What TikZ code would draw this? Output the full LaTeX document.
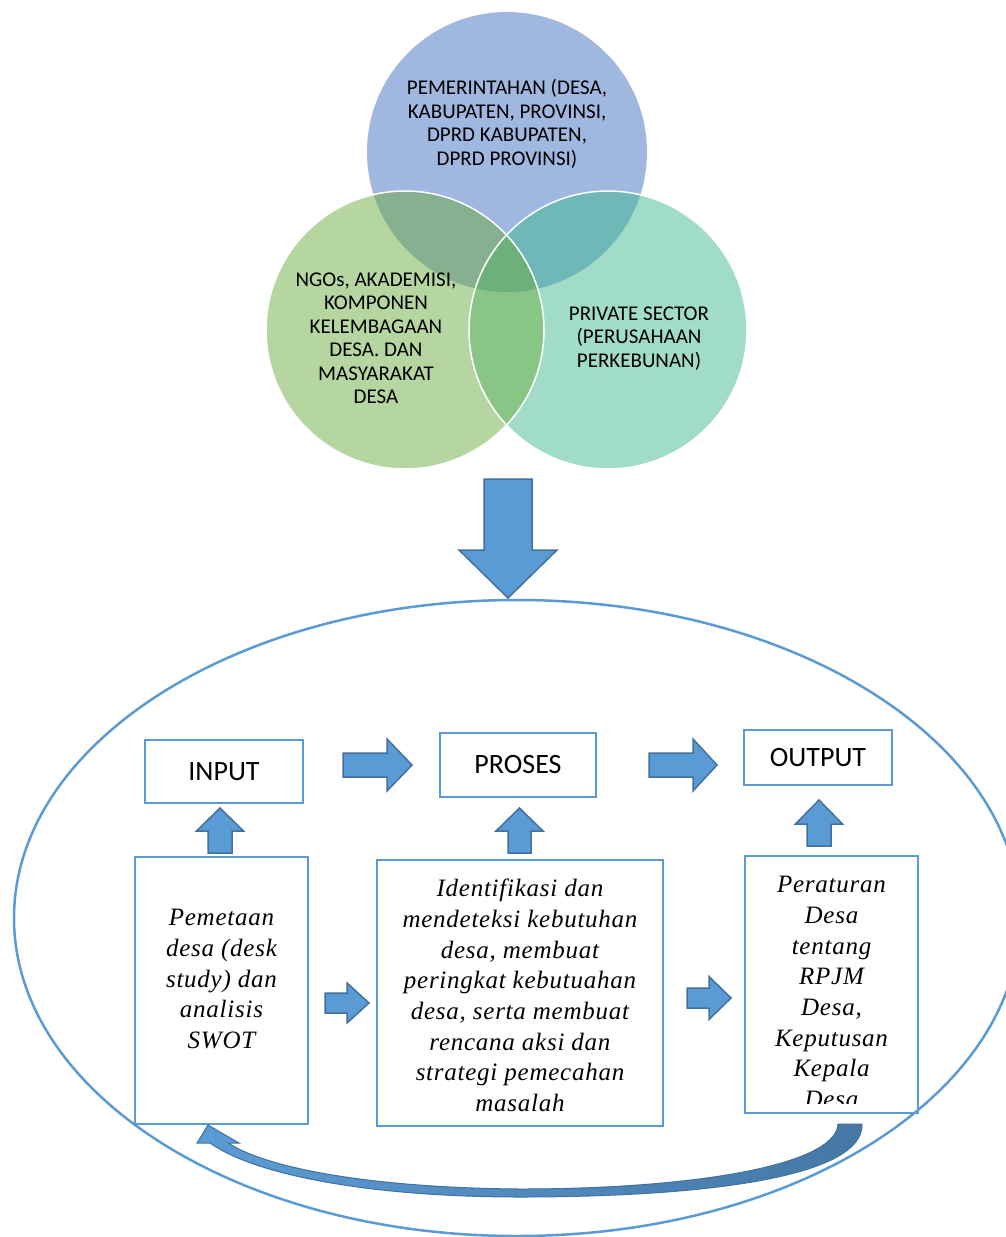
\documentclass[tikz,border=0pt]{standalone}
\usepackage{fontspec}
\setmainfont{Liberation Serif}
\newfontfamily\calfont{Carlito}
\newfontfamily\serifsp[LetterSpace=3]{Liberation Serif}
\definecolor{vtop}{HTML}{A0B7DF}
\definecolor{vleft}{HTML}{B6D6A1}
\definecolor{vright}{HTML}{A0DCC7}
\definecolor{vtl}{HTML}{86B08F}
\definecolor{vtr}{HTML}{70B8B8}
\definecolor{vlr}{HTML}{89C585}
\definecolor{vall}{HTML}{6CB07C}
\definecolor{ablue}{HTML}{5B9BD5}
\definecolor{adark}{HTML}{41719C}
\definecolor{boxline}{HTML}{5B9BD5}
\newcommand\rarr[6]{% x0 xhead xtip yc shafthalf headhalf
  \draw[blockarrow] (#1,#4-#5) -- (#2,#4-#5) -- (#2,#4-#6) -- (#3,#4) -- (#2,#4+#6) -- (#2,#4+#5) -- (#1,#4+#5) -- cycle;}
\newcommand\uarr[6]{% xc ybottom ybase ytip shafthalf headhalf
  \draw[blockarrow] (#1-#5,#2) -- (#1-#5,#3) -- (#1-#6,#3) -- (#1,#4) -- (#1+#6,#3) -- (#1+#5,#3) -- (#1+#5,#2) -- cycle;}
\begin{document}
\begin{tikzpicture}[x=1pt,y=-1pt,
  blockarrow/.style={fill=ablue,draw=adark,line width=1.5pt,line join=miter},
  boxnode/.style={draw=boxline,line width=2pt,fill=white,inner sep=0pt,font=\calfont\fontsize{28}{32}\selectfont},
  venntext/.style={align=center,inner sep=0pt,font=\calfont\fontsize{21}{23.5}\selectfont},
  boxtext/.style={align=center,inner sep=0pt,font=\serifsp\itshape\fontsize{25}{30.7}\selectfont}]
\useasboundingbox (0,0) rectangle (1006,1237);
\clip (0,0) rectangle (1006,1237);

% ---- Venn diagram ----
\coordinate (ctop) at (507,152);
\coordinate (cleft) at (405,330);
\coordinate (cright) at (608,330);
\fill[vtop] (ctop) circle[radius=140];
\fill[vleft] (cleft) circle[radius=139];
\fill[vright] (cright) circle[radius=139];
\begin{scope}
  \clip (ctop) circle[radius=140];
  \fill[vtl] (cleft) circle[radius=139];
  \fill[vtr] (cright) circle[radius=139];
\end{scope}
\begin{scope}
  \clip (cleft) circle[radius=139];
  \fill[vlr] (cright) circle[radius=139];
  \clip (cright) circle[radius=139];
  \fill[vall] (ctop) circle[radius=140];
\end{scope}
\draw[white,line width=1.5pt] (cleft) circle[radius=139];
\draw[white,line width=1.5pt] (cright) circle[radius=139];

\node[venntext] (tgov) at (507,124) {PEMERINTAHAN (DESA,\\KABUPATEN, PROVINSI,\\DPRD KABUPATEN,\\DPRD PROVINSI)};
\node[venntext] (tngo) at (376,338.5) {NGOs, AKADEMISI,\\KOMPONEN\\KELEMBAGAAN\\DESA. DAN\\MASYARAKAT\\DESA};
\node[venntext] (tpriv) at (639,338.5) {PRIVATE SECTOR\\(PERUSAHAAN\\PERKEBUNAN)};

% ---- big down arrow ----
\draw[blockarrow] (484,479) -- (532,479) -- (532,550) -- (557,550) -- (508,598) -- (459,550) -- (484,550) -- cycle;

% ---- big ellipse ----
\draw[boxline,line width=2.5pt] (517,918) ellipse[x radius=503, y radius=318];

% ---- top row boxes ----
\node[boxnode,minimum width=158,minimum height=63] (input) at (224,771.5) {INPUT};
\node[boxnode,minimum width=156,minimum height=64] (proses) at (518,765) {PROSES};
\node[boxnode,minimum width=148,minimum height=55] (output) at (818,757.5) {OUTPUT};

\rarr{343}{387}{412}{765}{12}{26}
\rarr{649}{693}{717}{765}{12}{26}

% ---- lower boxes ----
\node[draw=boxline,line width=2pt,minimum width=173,minimum height=267,inner sep=0pt] (b1) at (221.5,990.5) {};
\node[draw=boxline,line width=2pt,minimum width=286,minimum height=266,inner sep=0pt] (b2) at (520,993) {};
\node[draw=boxline,line width=2pt,minimum width=173,minimum height=257,inner sep=0pt] (b3) at (831.5,984.5) {};

\node[boxtext] (t1) at (221.5,979) {Pemetaan\\desa (desk\\study) dan\\analisis\\SWOT};
\node[boxtext] (t2) at (520,995.5) {Identifikasi dan\\mendeteksi kebutuhan\\desa, membuat\\peringkat kebutuahan\\desa, serta membuat\\rencana aksi dan\\strategi pemecahan\\masalah};
\begin{scope}
  \clip (746,858) rectangle (917,1103);
  \node[boxtext] (t3) at (831.5,992) {Peraturan\\Desa\\tentang\\RPJM\\Desa,\\Keputusan\\Kepala\\Desa};
\end{scope}

% ---- up arrows ----
\uarr{220}{853}{831}{808}{12}{23.5}
\uarr{519.5}{853}{831}{808}{11.5}{23.5}
\uarr{819}{846}{824}{800}{12}{23.5}

% ---- lower right arrows ----
\rarr{325}{347}{369}{1003}{10}{20}
\rarr{687}{709}{731}{998}{10}{21.5}

% ---- curved return arrow ----
\path[draw=adark,line width=1pt,left color=ablue,right color=adark!85!ablue,line join=miter]
  (838,1124) -- (862,1124)
  .. controls (864,1178) and (700,1197) .. (520,1197)
  .. controls (370,1197) and (255,1175) .. (210,1143)
  -- (197,1143) -- (208,1125) -- (239,1143) -- (228,1143)
  .. controls (270,1170) and (380,1188) .. (520,1189)
  .. controls (690,1189) and (836,1166) .. (838,1124) -- cycle;
\end{tikzpicture}
\end{document}
